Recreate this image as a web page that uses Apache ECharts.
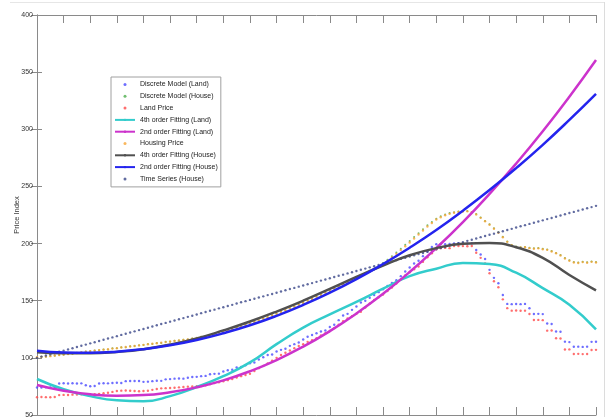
<!DOCTYPE html>
<html>
<head>
<meta charset="utf-8">
<title>Price Index</title>
<script src="https://cdn.jsdelivr.net/npm/echarts@6.0.0/dist/echarts.min.js"></script>
<style>
  html, body { margin: 0; padding: 0; background: #fff; }
  #chart { width: 606px; height: 417px; }
</style>
</head>
<body>
<div id="chart"></div>
<script>
// observation index runs 0..126, one x tick every 6 observations
const landDiscrete = [
  74.0, 74.0, 74.2, 74.0, 74.1, 77.5, 77.8, 77.6, 77.8, 77.5,
  77.7, 76.0, 75.2, 75.4, 77.6, 77.8, 77.7, 78.0, 78.2, 78.0,
  79.6, 79.8, 79.7, 79.8, 79.0, 79.2, 79.6, 80.0, 79.9, 81.2,
  81.4, 81.8, 82.0, 81.8, 82.6, 83.2, 83.4, 84.0, 84.2, 85.6,
  86.0, 86.2, 88.0, 89.2, 89.6, 91.5, 92.0, 93.5, 95.2, 96.0,
  98.5, 100.5, 102.5, 103.0, 105.5, 107.0, 108.0, 110.5, 112.0, 113.5,
  116.0, 118.5, 120.0, 121.5, 123.0, 124.0, 127.0, 129.0, 133.0, 137.0,
  138.5, 142.0, 145.0, 148.5, 150.0, 152.5, 155.0, 157.5, 160.0, 163.0,
  165.5, 168.0, 171.5, 175.5, 179.0, 182.5, 185.0, 189.0, 193.0, 197.0,
  199.4, 199.6, 199.5, 199.7, 200.2, 200.3, 200.2, 200.1, 200.3, 194.4,
  190.5, 186.5, 177.0, 170.0, 165.3, 155.0, 147.2, 147.0, 147.1, 147.0,
  147.2, 143.4, 138.4, 138.5, 138.3, 130.0, 129.6, 123.0, 122.8, 114.2,
  113.8, 109.7, 109.8, 109.6, 109.8, 114.0, 114.1
];

const houseDiscrete = [
  100.2, 100.9, 101.0, 101.8, 101.9, 102.6, 102.7, 103.5, 103.6, 104.5,
  104.7, 105.6, 105.7, 106.5, 106.6, 107.4, 107.4, 108.3, 108.4, 109.2,
  109.3, 110.2, 110.3, 111.1, 111.2, 112.1, 112.2, 113.0, 113.1, 114.0,
  114.1, 115.0, 115.1, 115.9, 116.0, 117.0, 117.2, 118.4, 118.8, 120.1,
  120.7, 122.1, 122.7, 124.2, 124.9, 126.5, 127.3, 129.0, 129.9, 131.6,
  132.6, 134.4, 135.4, 137.3, 138.4, 140.3, 141.5, 143.5, 144.7, 146.7,
  148.0, 150.1, 151.4, 153.6, 155.0, 157.2, 158.6, 160.8, 162.3, 164.6,
  166.1, 168.4, 169.9, 172.2, 173.7, 176.2, 177.9, 180.4, 183.0, 185.9,
  188.9, 192.2, 195.4, 198.9, 202.2, 205.7, 209.1, 212.6, 216.0, 218.9,
  221.8, 223.8, 225.4, 226.7, 227.5, 228.1, 228.4, 228.5, 227.7, 225.8,
  222.9, 219.8, 216.9, 213.4, 209.8, 205.9, 201.8, 198.8, 197.4, 196.8,
  197.1, 196.4, 195.8, 196.1, 195.4, 194.8, 193.4, 191.8, 189.9, 187.4,
  185.4, 183.9, 183.4, 184.1, 183.6, 184.3, 183.8
];

const landPrice = [
  65.5, 65.8, 65.6, 65.5, 65.7, 67.4, 67.6, 67.5, 67.8, 68.0,
  68.2, 68.0, 67.8, 68.2, 68.5, 69.0, 69.5, 70.2, 71.0, 71.3,
  71.5, 71.2, 71.0, 70.8, 71.0, 71.2, 72.0, 72.8, 73.3, 73.5,
  73.6, 73.8, 74.2, 74.5, 74.8, 75.0, 75.2, 75.4, 76.0, 77.0,
  78.0, 78.6, 79.5, 80.5, 81.5, 82.8, 84.0, 85.0, 86.0, 88.5,
  91.0, 93.0, 95.2, 97.5, 100.0, 102.5, 104.5, 106.5, 108.5, 110.4,
  112.0, 114.0, 115.5, 117.1, 119.5, 121.5, 123.5, 126.0, 129.0, 132.0,
  134.5, 136.5, 138.5, 140.4, 144.0, 147.5, 150.6, 153.0, 155.5, 158.5,
  161.5, 165.0, 168.5, 172.0, 175.0, 177.5, 180.0, 184.0, 188.0, 191.5,
  195.0, 196.0, 196.2, 196.0, 197.8, 197.9, 197.8, 197.7, 197.9, 192.0,
  187.5, 182.7, 174.0, 167.0, 161.8, 151.2, 143.5, 141.3, 141.4, 141.2,
  141.3, 138.4, 133.1, 133.2, 133.0, 123.8, 123.9, 117.1, 117.0, 107.3,
  107.4, 103.4, 103.5, 103.3, 103.4, 106.9, 107.0
];

const housingPrice = [
  100.5, 100.8, 101.2, 101.5, 102.0, 102.4, 102.9, 103.3, 103.8, 104.3,
  104.9, 105.4, 105.9, 106.3, 106.8, 107.2, 107.6, 108.1, 108.5, 109.0,
  109.5, 110.0, 110.4, 110.9, 111.4, 111.9, 112.3, 112.8, 113.3, 113.8,
  114.3, 114.8, 115.3, 115.7, 116.2, 116.8, 117.4, 118.2, 119.0, 119.9,
  120.9, 121.9, 122.9, 124.0, 125.1, 126.3, 127.5, 128.8, 130.1, 131.4,
  132.8, 134.2, 135.6, 137.1, 138.6, 140.1, 141.7, 143.3, 144.9, 146.5,
  148.2, 149.9, 151.6, 153.4, 155.2, 157.0, 158.8, 160.6, 162.5, 164.4,
  166.3, 168.2, 170.1, 172.0, 173.9, 175.8, 177.7, 179.6, 182.0, 184.8,
  187.8, 191.0, 194.3, 197.7, 201.0, 204.5, 208.0, 211.5, 215.0, 218.0,
  221.0, 223.0, 224.8, 226.0, 227.0, 227.6, 228.0, 228.2, 227.5, 225.5,
  222.5, 219.5, 216.5, 213.0, 209.5, 205.5, 201.5, 198.5, 197.0, 196.5,
  196.8, 196.0, 195.5, 195.8, 195.0, 194.5, 193.0, 191.5, 189.5, 187.0,
  185.0, 183.5, 183.0, 183.8, 183.2, 184.0, 183.5
];

const timeSeriesHouse = [
  100.0, 101.1, 102.1, 103.2, 104.2, 105.3, 106.3, 107.4, 108.4, 109.5,
  110.6, 111.6, 112.7, 113.7, 114.8, 115.8, 116.9, 117.9, 119.0, 120.1,
  121.1, 122.2, 123.2, 124.3, 125.3, 126.4, 127.4, 128.5, 129.6, 130.6,
  131.7, 132.7, 133.8, 134.8, 135.9, 136.9, 138.0, 139.1, 140.1, 141.2,
  142.2, 143.3, 144.3, 145.4, 146.4, 147.5, 148.6, 149.6, 150.7, 151.7,
  152.8, 153.8, 154.9, 155.9, 157.0, 158.1, 159.1, 160.2, 161.2, 162.3,
  163.3, 164.4, 165.4, 166.5, 167.6, 168.6, 169.7, 170.7, 171.8, 172.8,
  173.9, 174.9, 176.0, 177.1, 178.1, 179.2, 180.2, 181.3, 182.3, 183.4,
  184.4, 185.5, 186.6, 187.6, 188.7, 189.7, 190.8, 191.8, 192.9, 193.9,
  195.0, 196.1, 197.1, 198.2, 199.2, 200.3, 201.3, 202.4, 203.4, 204.5,
  205.6, 206.6, 207.7, 208.7, 209.8, 210.8, 211.9, 212.9, 214.0, 215.1,
  216.1, 217.2, 218.2, 219.3, 220.3, 221.4, 222.4, 223.5, 224.6, 225.6,
  226.7, 227.7, 228.8, 229.8, 230.9, 231.9, 233.0
];

// fitted curves, read at every 6th observation
const fitIdx = [0, 6, 12, 18, 24, 30, 36, 42, 48, 54, 60, 66, 72, 78, 84, 90, 96, 102, 108, 114, 120, 126];
const fit4Land = [81.5, 72.5, 66.5, 62.8, 62.0, 66.5, 74.5, 84.0, 96.0, 112.0, 126.5, 138.0, 149.0, 160.5, 171.5, 178.0, 183.0, 182.1, 174.5, 161.0, 146.5, 125.0];
const fit2Land = [76.2, 71.2, 68.1, 66.9, 67.4, 69.9, 74.2, 80.3, 88.3, 98.1, 109.8, 123.4, 138.8, 156.0, 175.1, 196.1, 218.8, 243.5, 270.0, 298.3, 328.5, 360.6];
const fit4House = [105.0, 104.0, 104.0, 105.2, 107.6, 111.6, 117.0, 124.0, 131.8, 140.5, 150.0, 160.3, 170.8, 180.8, 189.8, 196.0, 199.8, 200.6, 196.8, 187.5, 172.5, 159.0];
const fit2House = [106.2, 104.7, 104.5, 105.4, 107.6, 111.0, 115.6, 121.5, 128.5, 136.8, 146.3, 157.0, 168.9, 182.1, 196.4, 211.9, 228.8, 246.8, 266.0, 286.4, 308.2, 331.0];

const legendNames = [
  'Discrete Model (Land)', 'Discrete Model (House)', 'Land Price',
  '4th order Fitting (Land)', '2nd order Fitting (Land)', 'Housing Price',
  '4th order Fitting (House)', '2nd order Fitting (House)', 'Time Series (House)'
];
const dotNames = ['Discrete Model (Land)', 'Discrete Model (House)', 'Land Price', 'Housing Price', 'Time Series (House)'];

const chart = echarts.init(document.getElementById('chart'), null, { renderer: 'canvas' });

function dots(name, values, color, size) {
  return {
    name: name,
    type: 'scatter',
    symbol: 'circle',
    symbolSize: size,
    itemStyle: { color: color },
    data: values.map((v, i) => [i, v]),
    silent: true
  };
}

function curve(name, values, color) {
  return {
    name: name,
    type: 'line',
    smooth: 0.5,
    symbol: 'none',
    lineStyle: { color: color, width: 2.5 },
    itemStyle: { color: color },
    data: values.map((v, k) => [fitIdx[k], v]),
    silent: true
  };
}

const axisColor = '#8a8a8a';
const font = "'Liberation Sans', Arial, sans-serif";

const option = {
  animation: false,
  backgroundColor: '#fff',
  grid: { left: 37, right: 10, top: 15, bottom: 2, containLabel: false, outerBoundsMode: 'none' },
  xAxis: [
    {
      type: 'value', min: 0, max: 126, interval: 6, position: 'bottom',
      axisLine: { lineStyle: { color: axisColor, width: 1 } },
      axisTick: { inside: true, length: 8, lineStyle: { color: axisColor } },
      axisLabel: { show: false },
      splitLine: { show: false }
    },
    {
      type: 'value', min: 0, max: 126, interval: 6, position: 'top',
      axisLine: { lineStyle: { color: axisColor, width: 1 } },
      axisTick: { inside: true, length: 8, lineStyle: { color: axisColor } },
      axisLabel: { show: false },
      splitLine: { show: false }
    }
  ],
  yAxis: [
    {
      type: 'value', min: 50, max: 400, interval: 50, position: 'left',
      name: 'Price Index', nameLocation: 'middle', nameGap: 16, nameMoveOverlap: false,
      nameTextStyle: { fontFamily: font, fontSize: 7.5, color: '#333' },
      axisLine: { show: true, lineStyle: { color: axisColor, width: 1 } },
      axisTick: { show: true, inside: true, length: 5, lineStyle: { color: axisColor } },
      axisLabel: { fontFamily: font, fontSize: 7, color: '#333', margin: 4 },
      splitLine: { show: false }
    },
    {
      type: 'value', min: 50, max: 400, interval: 50, position: 'right',
      axisLine: { show: true, lineStyle: { color: axisColor, width: 1 } },
      axisTick: { show: true, inside: true, length: 6, lineStyle: { color: axisColor } },
      axisLabel: { show: false },
      splitLine: { show: false }
    }
  ],
  legend: {
    orient: 'vertical',
    left: 111,
    top: 77,
    itemWidth: 20,
    itemHeight: 3,
    itemGap: 1.8,
    padding: [2.5, 3, 3, 3],
    backgroundColor: '#fff',
    borderColor: '#a0a0a0',
    borderWidth: 1,
    borderRadius: 0,
    selectedMode: false,
    textStyle: { fontFamily: font, fontSize: 7, color: '#222', lineHeight: 10 },
    data: legendNames.map(n => dotNames.includes(n) ? { name: n, icon: 'circle' } : { name: n })
  },
  graphic: [
    { type: 'line', shape: { x1: 10, y1: 2.5, x2: 604, y2: 2.5 }, style: { stroke: '#e6e6e6', lineWidth: 1 }, silent: true },
    { type: 'line', shape: { x1: 604.5, y1: 2, x2: 604.5, y2: 417 }, style: { stroke: '#dcdcdc', lineWidth: 1 }, silent: true }
  ],
  series: [
    dots('Discrete Model (Land)', landDiscrete, '#4a4aff', 2.4),
    dots('Discrete Model (House)', houseDiscrete, '#4cae4c', 2),
    dots('Land Price', landPrice, '#ff4a4a', 2.4),
    curve('4th order Fitting (Land)', fit4Land, '#33cccc'),
    curve('2nd order Fitting (Land)', fit2Land, '#cc33cc'),
    dots('Housing Price', housingPrice, '#f7a535', 2.4),
    curve('4th order Fitting (House)', fit4House, '#505050'),
    curve('2nd order Fitting (House)', fit2House, '#2424ee'),
    dots('Time Series (House)', timeSeriesHouse, '#3a4688', 2.4)
  ]
};

chart.setOption(option);
</script>
</body>
</html>
